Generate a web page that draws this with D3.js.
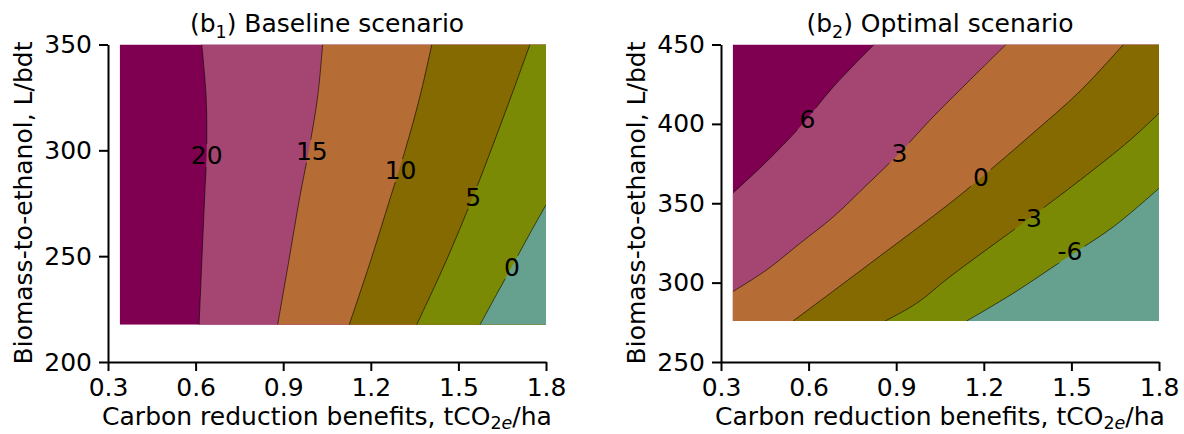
<!DOCTYPE html>
<html>
<head>
<meta charset="utf-8">
<script src="https://cdn.jsdelivr.net/npm/d3@7"></script>
<style>
  body { margin: 0; background: #fff; }
  text { font-family: "DejaVu Sans", sans-serif; fill: #000; }
</style>
</head>
<body>
<svg id="chart" width="1184" height="434"></svg>
<script>
// shared x axis
const xTicks = [0.3, 0.6, 0.9, 1.2, 1.5, 1.8];

// (b1) baseline scenario
const baseYTicks = [200, 250, 300, 350];
const baseExtentX = [0.34, 1.8];
const baseExtentY = [217.6, 350];
const baseLevels = ["20", "15", "10", "5", "0"];
// each contour ordered from bottom/left edge to top/right edge
const baseLines = [
  [[0.612, 217.6], [0.621, 246.8], [0.631, 278.1], [0.638, 300.2], [0.636, 325.3], [0.621, 350]],
  [[0.881, 217.6], [0.918, 246.8], [0.957, 278.1], [0.988, 300.2], [1.018, 325.3], [1.035, 350]],
  [[1.126, 217.6], [1.197, 246.8], [1.268, 278.1], [1.318, 300.2], [1.368, 325.3], [1.409, 350]],
  [[1.357, 217.6], [1.455, 246.8], [1.55, 278.1], [1.612, 300.2], [1.68, 325.3], [1.745, 350]],
  [[1.574, 217.6], [1.631, 232], [1.69, 246.8], [1.742, 260], [1.8, 274.2]]
];
const baseLabelAt = [[0.638, 297.8], [0.998, 299.8], [1.302, 290.7], [1.551, 278.1], [1.683, 245.0]];

// (b2) optimal scenario
const optYTicks = [250, 300, 350, 400, 450];
const optExtentX = [0.34, 1.8];
const optExtentY = [275.8, 450];
const optLevels = ["6", "3", "0", "-3", "-6"];
const optLines = [
  [[0.34, 356.3], [0.456, 376.2], [0.571, 398.2], [0.685, 423.4], [0.824, 450]],
  [[0.34, 294.3], [0.456, 308.0], [0.571, 324.8], [0.685, 341.5], [0.799, 361.5], [0.911, 381.5], [1.016, 402.4], [1.146, 426.4], [1.276, 450]],
  [[0.547, 275.8], [0.799, 310.5], [1.084, 350], [1.19, 366.0], [1.358, 392.5], [1.53, 420.7], [1.678, 450]],
  [[0.862, 275.8], [0.97, 287.0], [1.084, 303.7], [1.356, 340.5], [1.53, 364.6], [1.701, 389.8], [1.8, 406.7]],
  [[1.141, 275.8], [1.301, 293.3], [1.472, 314.2], [1.644, 335.2], [1.8, 359.4]]
];
const optLabelAt = [[0.596, 402.9], [0.911, 381.5], [1.19, 366.7], [1.356, 340.5], [1.495, 320.1]];

const bandColors = ["#7f0050", "#a54672", "#b66d35", "#856901", "#7b8a04", "#66a08e"];

const svg = d3.select("#chart");
const fs = 25;

function drawPanel(cfg) {
  const x = d3.scaleLinear().domain([0.3, 1.8]).range([cfg.left, cfg.left + 438]);
  const y = d3.scaleLinear().domain(cfg.yDomain).range([362, 44.5]);
  const g = svg.append("g");

  const clipId = "clip-" + cfg.id;
  g.append("clipPath").attr("id", clipId)
    .append("rect")
    .attr("x", x(cfg.ex[0])).attr("y", y(cfg.ey[1]))
    .attr("width", x(cfg.ex[1]) - x(cfg.ex[0]))
    .attr("height", y(cfg.ey[0]) - y(cfg.ey[1]));

  const line = d3.line().x(d => x(d[0])).y(d => y(d[1])).curve(d3.curveCatmullRom.alpha(0.5));
  const corners = [[cfg.ex[1], cfg.ey[1]], [cfg.ex[1], cfg.ey[0]], [cfg.ex[0], cfg.ey[0]]];
  const band = pts => line(pts) + corners.map(c => "L" + x(c[0]) + "," + y(c[1])).join("") + "Z";

  const plot = g.append("g").attr("clip-path", `url(#${clipId})`);
  plot.append("rect")
    .attr("x", x(cfg.ex[0])).attr("y", y(cfg.ey[1]))
    .attr("width", x(cfg.ex[1]) - x(cfg.ex[0]))
    .attr("height", y(cfg.ey[0]) - y(cfg.ey[1]))
    .attr("fill", bandColors[0]);

  plot.selectAll("path.band").data(cfg.lines).enter().append("path")
    .attr("class", "band")
    .attr("d", band)
    .attr("fill", (d, i) => bandColors[i + 1]);

  // labels first so the mask can cut the lines under them
  const labels = g.append("g").selectAll("text").data(cfg.levels).enter().append("text")
    .attr("x", (d, i) => x(cfg.labelAt[i][0]))
    .attr("y", (d, i) => y(cfg.labelAt[i][1]))
    .attr("text-anchor", "middle")
    .attr("dy", "0.36em")
    .style("font-size", fs + "px")
    .text(d => d);

  const maskId = "mask-" + cfg.id;
  const mask = g.append("mask").attr("id", maskId);
  mask.append("rect").attr("x", 0).attr("y", 0).attr("width", 1184).attr("height", 434).attr("fill", "#fff");
  labels.each(function () {
    const b = this.getBBox();
    mask.append("rect").attr("x", b.x - 2).attr("y", b.y + 3).attr("width", b.width + 4).attr("height", b.height - 6).attr("fill", "#000");
  });

  plot.append("g").attr("mask", `url(#${maskId})`)
    .selectAll("path.line").data(cfg.lines).enter().append("path")
    .attr("class", "line")
    .attr("d", line)
    .attr("fill", "none")
    .attr("stroke", "#000")
    .attr("stroke-opacity", 0.75)
    .attr("stroke-width", 0.8);

  labels.raise();

  const xAxis = g.append("g").attr("transform", "translate(0,362)")
    .call(d3.axisBottom(x).tickValues(xTicks).tickFormat(d3.format(".1f")).tickSize(9).tickSizeOuter(0).tickPadding(7));
  const yAxis = g.append("g").attr("transform", `translate(${cfg.left},0)`)
    .call(d3.axisLeft(y).tickValues(cfg.yTicks).tickSize(9).tickSizeOuter(0).tickPadding(7));
  [xAxis, yAxis].forEach(a => {
    a.select(".domain").attr("stroke", "#000").attr("stroke-width", 2);
    a.selectAll(".tick line").attr("stroke", "#000").attr("stroke-width", 2);
    a.selectAll(".tick text").style("font-size", fs + "px").style("font-family", "DejaVu Sans").attr("fill", "#000");
  });

  // title with subscript
  const t = g.append("text")
    .attr("x", cfg.left + 219).attr("y", 32)
    .attr("text-anchor", "middle")
    .style("font-size", fs + "px");
  t.append("tspan").text("(b");
  t.append("tspan").attr("dy", 6).style("font-size", "17.5px").text(cfg.sub);
  t.append("tspan").attr("dy", -6).text(") " + cfg.title);

  // x label
  const xl = g.append("text")
    .attr("x", cfg.left + 219).attr("y", 425)
    .attr("text-anchor", "middle")
    .style("font-size", fs + "px");
  xl.append("tspan").text("Carbon reduction benefits, tCO");
  xl.append("tspan").attr("dy", 4).style("font-size", "17.5px").text("2");
  xl.append("tspan").style("font-size", "17.5px").style("font-style", "italic").text("e");
  xl.append("tspan").attr("dy", -4).text("/ha");

  g.append("text")
    .attr("transform", `translate(${cfg.left - 76},203) rotate(-90)`)
    .attr("text-anchor", "middle")
    .style("font-size", fs + "px")
    .text("Biomass-to-ethanol, L/bdt");
}

drawPanel({
  id: "b1", left: 108, yDomain: [200, 350], yTicks: baseYTicks,
  ex: baseExtentX, ey: baseExtentY, lines: baseLines, levels: baseLevels, labelAt: baseLabelAt,
  sub: "1", title: "Baseline scenario"
});
drawPanel({
  id: "b2", left: 721, yDomain: [250, 450], yTicks: optYTicks,
  ex: optExtentX, ey: optExtentY, lines: optLines, levels: optLevels, labelAt: optLabelAt,
  sub: "2", title: "Optimal scenario"
});
</script>
</body>
</html>
